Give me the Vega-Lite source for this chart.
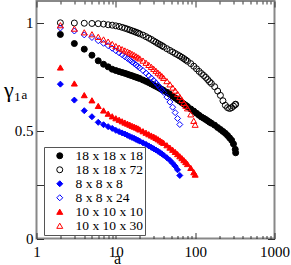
{
"$schema":"https://vega.github.io/schema/vega-lite/v6.json",
"width":238,"height":237.5,
"autosize":"none",
"padding":{"left":36.5,"top":1,"right":16.5,"bottom":26.5},
"config":{"view":{"stroke":"#888888","strokeWidth":2},"font":"Liberation Serif"},
"data":{"values":[
{"s":"18 x 18 x 18","a":2,"g":0.945},{"s":"18 x 18 x 18","a":3,"g":0.903},{"s":"18 x 18 x 18","a":4,"g":0.877},{"s":"18 x 18 x 18","a":5,"g":0.849},{"s":"18 x 18 x 18","a":6,"g":0.823},{"s":"18 x 18 x 18","a":7,"g":0.807},{"s":"18 x 18 x 18","a":8,"g":0.795},{"s":"18 x 18 x 18","a":9,"g":0.784},{"s":"18 x 18 x 18","a":10,"g":0.778},{"s":"18 x 18 x 18","a":11,"g":0.773},{"s":"18 x 18 x 18","a":12,"g":0.769},{"s":"18 x 18 x 18","a":13,"g":0.765},{"s":"18 x 18 x 18","a":14,"g":0.761},{"s":"18 x 18 x 18","a":15,"g":0.757},{"s":"18 x 18 x 18","a":16,"g":0.754},{"s":"18 x 18 x 18","a":17,"g":0.750},{"s":"18 x 18 x 18","a":18,"g":0.747},{"s":"18 x 18 x 18","a":19,"g":0.744},{"s":"18 x 18 x 18","a":20,"g":0.741},{"s":"18 x 18 x 18","a":22,"g":0.734},{"s":"18 x 18 x 18","a":24,"g":0.728},{"s":"18 x 18 x 18","a":26,"g":0.722},{"s":"18 x 18 x 18","a":28,"g":0.716},{"s":"18 x 18 x 18","a":30,"g":0.710},{"s":"18 x 18 x 18","a":32,"g":0.705},{"s":"18 x 18 x 18","a":34,"g":0.700},{"s":"18 x 18 x 18","a":36,"g":0.695},{"s":"18 x 18 x 18","a":38,"g":0.690},{"s":"18 x 18 x 18","a":40,"g":0.686},{"s":"18 x 18 x 18","a":44,"g":0.677},{"s":"18 x 18 x 18","a":48,"g":0.668},{"s":"18 x 18 x 18","a":52,"g":0.659},{"s":"18 x 18 x 18","a":56,"g":0.651},{"s":"18 x 18 x 18","a":60,"g":0.643},{"s":"18 x 18 x 18","a":64,"g":0.636},{"s":"18 x 18 x 18","a":68,"g":0.629},{"s":"18 x 18 x 18","a":72,"g":0.623},{"s":"18 x 18 x 18","a":76,"g":0.617},{"s":"18 x 18 x 18","a":80,"g":0.611},{"s":"18 x 18 x 18","a":88,"g":0.600},{"s":"18 x 18 x 18","a":96,"g":0.590},{"s":"18 x 18 x 18","a":104,"g":0.580},{"s":"18 x 18 x 18","a":112,"g":0.571},{"s":"18 x 18 x 18","a":120,"g":0.563},{"s":"18 x 18 x 18","a":128,"g":0.557},{"s":"18 x 18 x 18","a":136,"g":0.551},{"s":"18 x 18 x 18","a":144,"g":0.545},{"s":"18 x 18 x 18","a":152,"g":0.539},{"s":"18 x 18 x 18","a":160,"g":0.534},{"s":"18 x 18 x 18","a":176,"g":0.525},{"s":"18 x 18 x 18","a":192,"g":0.514},{"s":"18 x 18 x 18","a":208,"g":0.505},{"s":"18 x 18 x 18","a":224,"g":0.496},{"s":"18 x 18 x 18","a":240,"g":0.487},{"s":"18 x 18 x 18","a":256,"g":0.477},{"s":"18 x 18 x 18","a":272,"g":0.466},{"s":"18 x 18 x 18","a":288,"g":0.455},{"s":"18 x 18 x 18","a":304,"g":0.438},{"s":"18 x 18 x 18","a":320,"g":0.413},{"s":"18 x 18 x 18","a":324,"g":0.397},
{"s":"18 x 18 x 72","a":2,"g":0.999},{"s":"18 x 18 x 72","a":3,"g":0.998},{"s":"18 x 18 x 72","a":4,"g":0.997},{"s":"18 x 18 x 72","a":5,"g":0.996},{"s":"18 x 18 x 72","a":6,"g":0.995},{"s":"18 x 18 x 72","a":7,"g":0.993},{"s":"18 x 18 x 72","a":8,"g":0.990},{"s":"18 x 18 x 72","a":9,"g":0.988},{"s":"18 x 18 x 72","a":10,"g":0.985},{"s":"18 x 18 x 72","a":11,"g":0.982},{"s":"18 x 18 x 72","a":12,"g":0.978},{"s":"18 x 18 x 72","a":13,"g":0.974},{"s":"18 x 18 x 72","a":14,"g":0.970},{"s":"18 x 18 x 72","a":15,"g":0.966},{"s":"18 x 18 x 72","a":16,"g":0.962},{"s":"18 x 18 x 72","a":17,"g":0.959},{"s":"18 x 18 x 72","a":18,"g":0.955},{"s":"18 x 18 x 72","a":19,"g":0.952},{"s":"18 x 18 x 72","a":20,"g":0.948},{"s":"18 x 18 x 72","a":22,"g":0.942},{"s":"18 x 18 x 72","a":24,"g":0.935},{"s":"18 x 18 x 72","a":26,"g":0.928},{"s":"18 x 18 x 72","a":28,"g":0.922},{"s":"18 x 18 x 72","a":30,"g":0.915},{"s":"18 x 18 x 72","a":32,"g":0.909},{"s":"18 x 18 x 72","a":34,"g":0.903},{"s":"18 x 18 x 72","a":36,"g":0.898},{"s":"18 x 18 x 72","a":38,"g":0.893},{"s":"18 x 18 x 72","a":40,"g":0.888},{"s":"18 x 18 x 72","a":44,"g":0.879},{"s":"18 x 18 x 72","a":48,"g":0.871},{"s":"18 x 18 x 72","a":52,"g":0.864},{"s":"18 x 18 x 72","a":56,"g":0.857},{"s":"18 x 18 x 72","a":60,"g":0.851},{"s":"18 x 18 x 72","a":64,"g":0.845},{"s":"18 x 18 x 72","a":68,"g":0.839},{"s":"18 x 18 x 72","a":72,"g":0.833},{"s":"18 x 18 x 72","a":76,"g":0.827},{"s":"18 x 18 x 72","a":80,"g":0.821},{"s":"18 x 18 x 72","a":88,"g":0.810},{"s":"18 x 18 x 72","a":96,"g":0.798},{"s":"18 x 18 x 72","a":104,"g":0.786},{"s":"18 x 18 x 72","a":112,"g":0.774},{"s":"18 x 18 x 72","a":120,"g":0.764},{"s":"18 x 18 x 72","a":128,"g":0.755},{"s":"18 x 18 x 72","a":136,"g":0.746},{"s":"18 x 18 x 72","a":144,"g":0.736},{"s":"18 x 18 x 72","a":152,"g":0.726},{"s":"18 x 18 x 72","a":160,"g":0.718},{"s":"18 x 18 x 72","a":176,"g":0.703},{"s":"18 x 18 x 72","a":192,"g":0.683},{"s":"18 x 18 x 72","a":208,"g":0.663},{"s":"18 x 18 x 72","a":224,"g":0.638},{"s":"18 x 18 x 72","a":240,"g":0.617},{"s":"18 x 18 x 72","a":256,"g":0.606},{"s":"18 x 18 x 72","a":272,"g":0.602},{"s":"18 x 18 x 72","a":288,"g":0.606},{"s":"18 x 18 x 72","a":304,"g":0.613},{"s":"18 x 18 x 72","a":320,"g":0.620},{"s":"18 x 18 x 72","a":324,"g":0.622},
{"s":"8 x 8 x 8","a":2,"g":0.715},{"s":"8 x 8 x 8","a":3,"g":0.641},{"s":"8 x 8 x 8","a":4,"g":0.592},{"s":"8 x 8 x 8","a":5,"g":0.564},{"s":"8 x 8 x 8","a":6,"g":0.538},{"s":"8 x 8 x 8","a":7,"g":0.527},{"s":"8 x 8 x 8","a":8,"g":0.518},{"s":"8 x 8 x 8","a":9,"g":0.510},{"s":"8 x 8 x 8","a":10,"g":0.501},{"s":"8 x 8 x 8","a":11,"g":0.495},{"s":"8 x 8 x 8","a":12,"g":0.489},{"s":"8 x 8 x 8","a":13,"g":0.484},{"s":"8 x 8 x 8","a":14,"g":0.478},{"s":"8 x 8 x 8","a":15,"g":0.473},{"s":"8 x 8 x 8","a":16,"g":0.468},{"s":"8 x 8 x 8","a":17,"g":0.464},{"s":"8 x 8 x 8","a":18,"g":0.459},{"s":"8 x 8 x 8","a":19,"g":0.455},{"s":"8 x 8 x 8","a":20,"g":0.451},{"s":"8 x 8 x 8","a":22,"g":0.443},{"s":"8 x 8 x 8","a":24,"g":0.436},{"s":"8 x 8 x 8","a":26,"g":0.429},{"s":"8 x 8 x 8","a":28,"g":0.422},{"s":"8 x 8 x 8","a":30,"g":0.416},{"s":"8 x 8 x 8","a":32,"g":0.410},{"s":"8 x 8 x 8","a":34,"g":0.404},{"s":"8 x 8 x 8","a":36,"g":0.398},{"s":"8 x 8 x 8","a":38,"g":0.392},{"s":"8 x 8 x 8","a":40,"g":0.386},{"s":"8 x 8 x 8","a":44,"g":0.374},{"s":"8 x 8 x 8","a":48,"g":0.362},{"s":"8 x 8 x 8","a":52,"g":0.349},{"s":"8 x 8 x 8","a":56,"g":0.335},{"s":"8 x 8 x 8","a":60,"g":0.318},{"s":"8 x 8 x 8","a":64,"g":0.292},
{"s":"8 x 8 x 24","a":2,"g":0.975},{"s":"8 x 8 x 24","a":3,"g":0.961},{"s":"8 x 8 x 24","a":4,"g":0.943},{"s":"8 x 8 x 24","a":5,"g":0.931},{"s":"8 x 8 x 24","a":6,"g":0.916},{"s":"8 x 8 x 24","a":7,"g":0.904},{"s":"8 x 8 x 24","a":8,"g":0.893},{"s":"8 x 8 x 24","a":9,"g":0.881},{"s":"8 x 8 x 24","a":10,"g":0.870},{"s":"8 x 8 x 24","a":11,"g":0.860},{"s":"8 x 8 x 24","a":12,"g":0.851},{"s":"8 x 8 x 24","a":13,"g":0.842},{"s":"8 x 8 x 24","a":14,"g":0.834},{"s":"8 x 8 x 24","a":15,"g":0.826},{"s":"8 x 8 x 24","a":16,"g":0.818},{"s":"8 x 8 x 24","a":17,"g":0.811},{"s":"8 x 8 x 24","a":18,"g":0.804},{"s":"8 x 8 x 24","a":19,"g":0.797},{"s":"8 x 8 x 24","a":20,"g":0.790},{"s":"8 x 8 x 24","a":22,"g":0.778},{"s":"8 x 8 x 24","a":24,"g":0.766},{"s":"8 x 8 x 24","a":26,"g":0.754},{"s":"8 x 8 x 24","a":28,"g":0.743},{"s":"8 x 8 x 24","a":30,"g":0.732},{"s":"8 x 8 x 24","a":32,"g":0.721},{"s":"8 x 8 x 24","a":34,"g":0.710},{"s":"8 x 8 x 24","a":36,"g":0.699},{"s":"8 x 8 x 24","a":38,"g":0.688},{"s":"8 x 8 x 24","a":40,"g":0.677},{"s":"8 x 8 x 24","a":44,"g":0.655},{"s":"8 x 8 x 24","a":48,"g":0.632},{"s":"8 x 8 x 24","a":52,"g":0.608},{"s":"8 x 8 x 24","a":56,"g":0.583},{"s":"8 x 8 x 24","a":60,"g":0.556},{"s":"8 x 8 x 24","a":64,"g":0.528},
{"s":"10 x 10 x 10","a":2,"g":0.792},{"s":"10 x 10 x 10","a":3,"g":0.718},{"s":"10 x 10 x 10","a":4,"g":0.664},{"s":"10 x 10 x 10","a":5,"g":0.640},{"s":"10 x 10 x 10","a":6,"g":0.614},{"s":"10 x 10 x 10","a":7,"g":0.593},{"s":"10 x 10 x 10","a":8,"g":0.578},{"s":"10 x 10 x 10","a":9,"g":0.566},{"s":"10 x 10 x 10","a":10,"g":0.557},{"s":"10 x 10 x 10","a":11,"g":0.550},{"s":"10 x 10 x 10","a":12,"g":0.543},{"s":"10 x 10 x 10","a":13,"g":0.537},{"s":"10 x 10 x 10","a":14,"g":0.532},{"s":"10 x 10 x 10","a":15,"g":0.527},{"s":"10 x 10 x 10","a":16,"g":0.522},{"s":"10 x 10 x 10","a":17,"g":0.518},{"s":"10 x 10 x 10","a":18,"g":0.514},{"s":"10 x 10 x 10","a":19,"g":0.510},{"s":"10 x 10 x 10","a":20,"g":0.505},{"s":"10 x 10 x 10","a":22,"g":0.497},{"s":"10 x 10 x 10","a":24,"g":0.490},{"s":"10 x 10 x 10","a":26,"g":0.483},{"s":"10 x 10 x 10","a":28,"g":0.477},{"s":"10 x 10 x 10","a":30,"g":0.472},{"s":"10 x 10 x 10","a":32,"g":0.466},{"s":"10 x 10 x 10","a":34,"g":0.460},{"s":"10 x 10 x 10","a":36,"g":0.454},{"s":"10 x 10 x 10","a":38,"g":0.448},{"s":"10 x 10 x 10","a":40,"g":0.443},{"s":"10 x 10 x 10","a":44,"g":0.432},{"s":"10 x 10 x 10","a":48,"g":0.421},{"s":"10 x 10 x 10","a":52,"g":0.411},{"s":"10 x 10 x 10","a":56,"g":0.401},{"s":"10 x 10 x 10","a":60,"g":0.391},{"s":"10 x 10 x 10","a":64,"g":0.381},{"s":"10 x 10 x 10","a":68,"g":0.372},{"s":"10 x 10 x 10","a":72,"g":0.363},{"s":"10 x 10 x 10","a":76,"g":0.354},{"s":"10 x 10 x 10","a":80,"g":0.345},{"s":"10 x 10 x 10","a":88,"g":0.327},{"s":"10 x 10 x 10","a":96,"g":0.307},{"s":"10 x 10 x 10","a":100,"g":0.296},
{"s":"10 x 10 x 30","a":2,"g":0.988},{"s":"10 x 10 x 30","a":3,"g":0.972},{"s":"10 x 10 x 30","a":4,"g":0.955},{"s":"10 x 10 x 30","a":5,"g":0.946},{"s":"10 x 10 x 30","a":6,"g":0.934},{"s":"10 x 10 x 30","a":7,"g":0.922},{"s":"10 x 10 x 30","a":8,"g":0.912},{"s":"10 x 10 x 30","a":9,"g":0.901},{"s":"10 x 10 x 30","a":10,"g":0.891},{"s":"10 x 10 x 30","a":11,"g":0.884},{"s":"10 x 10 x 30","a":12,"g":0.877},{"s":"10 x 10 x 30","a":13,"g":0.871},{"s":"10 x 10 x 30","a":14,"g":0.866},{"s":"10 x 10 x 30","a":15,"g":0.861},{"s":"10 x 10 x 30","a":16,"g":0.855},{"s":"10 x 10 x 30","a":17,"g":0.850},{"s":"10 x 10 x 30","a":18,"g":0.844},{"s":"10 x 10 x 30","a":19,"g":0.839},{"s":"10 x 10 x 30","a":20,"g":0.834},{"s":"10 x 10 x 30","a":22,"g":0.824},{"s":"10 x 10 x 30","a":24,"g":0.814},{"s":"10 x 10 x 30","a":26,"g":0.804},{"s":"10 x 10 x 30","a":28,"g":0.795},{"s":"10 x 10 x 30","a":30,"g":0.786},{"s":"10 x 10 x 30","a":32,"g":0.777},{"s":"10 x 10 x 30","a":34,"g":0.768},{"s":"10 x 10 x 30","a":36,"g":0.760},{"s":"10 x 10 x 30","a":38,"g":0.752},{"s":"10 x 10 x 30","a":40,"g":0.744},{"s":"10 x 10 x 30","a":44,"g":0.729},{"s":"10 x 10 x 30","a":48,"g":0.714},{"s":"10 x 10 x 30","a":52,"g":0.699},{"s":"10 x 10 x 30","a":56,"g":0.685},{"s":"10 x 10 x 30","a":60,"g":0.670},{"s":"10 x 10 x 30","a":64,"g":0.656},{"s":"10 x 10 x 30","a":68,"g":0.642},{"s":"10 x 10 x 30","a":72,"g":0.628},{"s":"10 x 10 x 30","a":76,"g":0.615},{"s":"10 x 10 x 30","a":80,"g":0.603},{"s":"10 x 10 x 30","a":88,"g":0.575},{"s":"10 x 10 x 30","a":96,"g":0.545},{"s":"10 x 10 x 30","a":100,"g":0.527}
]},
"resolve":{"axis":{"x":"independent","y":"independent"}},
"layer":[
{"mark":{"type":"point","opacity":0},
 "encoding":{
  "x":{"field":"a","type":"quantitative","scale":{"type":"log","domain":[1,1000],"nice":false},"axis":{"orient":"bottom","values":[2,3,4,5,6,7,8,9,20,30,40,50,60,70,80,90,200,300,400,500,600,700,800,900],"tickSize":-3,"tickColor":"#333","labels":false,"domain":false,"grid":false,"title":null}},
  "y":{"field":"g","type":"quantitative","scale":{"domain":[0,1.1],"nice":false},"axis":{"orient":"right","values":[0,0.25,0.5,0.75,1],"tickSize":-7,"tickColor":"#333","labels":false,"domain":false,"grid":false,"title":null}}}},
{"mark":{"type":"point","opacity":0},
 "encoding":{
  "x":{"field":"a","type":"quantitative","axis":{"orient":"top","values":[1,10,100,1000],"tickSize":-6,"tickColor":"#333","labels":false,"domain":false,"grid":false,"title":null}},
  "y":{"field":"g","type":"quantitative","axis":null}}},
{"mark":{"type":"point","opacity":0},
 "encoding":{
  "x":{"field":"a","type":"quantitative","axis":{"orient":"top","values":[2,3,4,5,6,7,8,9,20,30,40,50,60,70,80,90,200,300,400,500,600,700,800,900],"tickSize":-3,"tickColor":"#333","labels":false,"domain":false,"grid":false,"title":null}},
  "y":{"field":"g","type":"quantitative","axis":null}}},
{"mark":{"type":"point","opacity":1,"size":36,"strokeWidth":1},
 "encoding":{
  "x":{"field":"a","type":"quantitative","axis":{"orient":"bottom","values":[1,10,100,1000],"format":"d","tickSize":-6,"tickColor":"#333","labelPadding":12,"labelFont":"Liberation Serif","labelFontSize":15,"labelColor":"black","labelFlush":false,"labelOverlap":false,"domain":false,"grid":false,"title":"a","titleFont":"Liberation Serif","titleFontSize":16,"titleFontWeight":"normal","titleColor":"black","titleX":80.5,"titleY":24.5,"titleAlign":"center","titleBaseline":"alphabetic"}},
  "y":{"field":"g","type":"quantitative","axis":{"orient":"left","values":[0,0.25,0.5,0.75,1],"format":"~g","labelExpr":"datum.value==0.25||datum.value==0.75?'':datum.label","tickSize":-7,"tickColor":"#333","labelPadding":10.5,"labelFont":"Liberation Serif","labelFontSize":15,"labelColor":"black","labelFlush":false,"labelOverlap":false,"domain":false,"grid":false,"title":"γ₁ₐ","titleFont":"Liberation Serif","titleFontSize":22,"titleFontWeight":"normal","titleColor":"black","titleAngle":0,"titleX":-33,"titleY":88,"titleAlign":"left","titleBaseline":"middle"}},
  "shape":{"field":"s","type":"nominal","scale":{"domain":["18 x 18 x 18","18 x 18 x 72","8 x 8 x 8","8 x 8 x 24","10 x 10 x 10","10 x 10 x 30"],"range":["circle","circle","diamond","diamond","triangle-up","triangle-up"]},
   "legend":{"orient":"none","legendX":7.5,"legendY":146,"title":null,"fillColor":"white","strokeColor":"#555555","padding":2,"symbolOffset":7,"labelOffset":9,"labelFont":"Liberation Serif","labelFontSize":13.5,"labelColor":"black","symbolSize":36,"symbolStrokeWidth":1,"rowPadding":-1.3,"labelLimit":200}},
  "stroke":{"field":"s","type":"nominal","scale":{"domain":["18 x 18 x 18","18 x 18 x 72","8 x 8 x 8","8 x 8 x 24","10 x 10 x 10","10 x 10 x 30"],"range":["black","black","blue","blue","red","red"]},
   "legend":{"orient":"none","legendX":7.5,"legendY":146,"title":null,"fillColor":"white","strokeColor":"#555555","padding":2,"symbolOffset":7,"labelOffset":9,"labelFont":"Liberation Serif","labelFontSize":13.5,"labelColor":"black","symbolSize":36,"symbolStrokeWidth":1,"rowPadding":-1.3,"labelLimit":200}},
  "fill":{"field":"s","type":"nominal","scale":{"domain":["18 x 18 x 18","18 x 18 x 72","8 x 8 x 8","8 x 8 x 24","10 x 10 x 10","10 x 10 x 30"],"range":["black","transparent","blue","transparent","red","transparent"]},
   "legend":{"orient":"none","legendX":7.5,"legendY":146,"title":null,"fillColor":"white","strokeColor":"#555555","padding":2,"symbolOffset":7,"labelOffset":9,"labelFont":"Liberation Serif","labelFontSize":13.5,"labelColor":"black","symbolSize":36,"symbolStrokeWidth":1,"rowPadding":-1.3,"labelLimit":200}}
 }}
]
}
